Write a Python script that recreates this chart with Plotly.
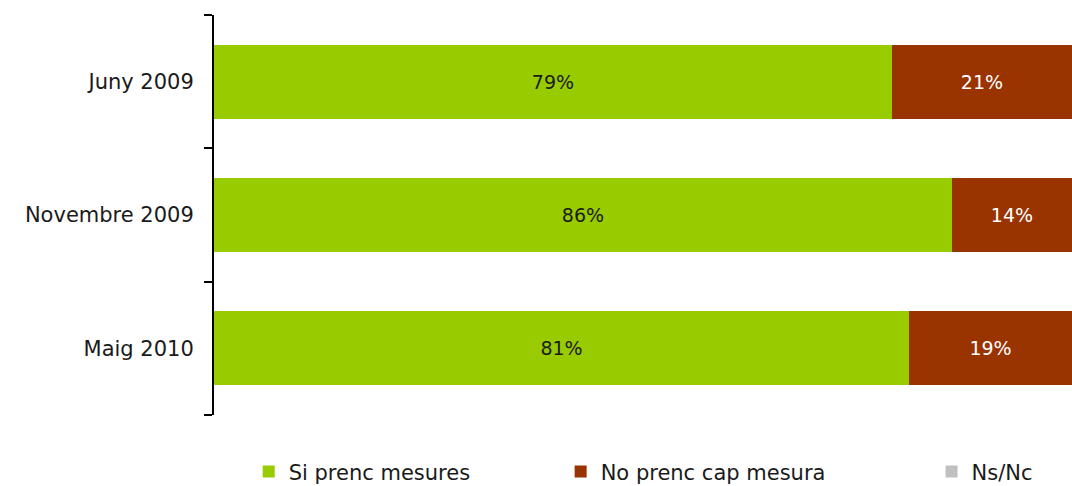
import plotly.graph_objects as go

categories = ["Juny 2009", "Novembre 2009", "Maig 2010"]
si_prenc = [79, 86, 81]
no_prenc = [21, 14, 19]
ns_nc = [0, 0, 0]
series_names = ["Si prenc mesures", "No prenc cap mesura", "Ns/Nc"]
colors = ["#99CC00", "#993300", "#C0C0C0"]
text_colors = ["#1a1a1a", "#ffffff", "#1a1a1a"]
legend_ids = ["legend", "legend2", "legend3"]
legend_x = [0.232, 0.523, 0.869]

FONT = "DejaVu Sans"

y_pos = list(range(len(categories)))
boundaries = [p - 0.5 for p in y_pos] + [y_pos[-1] + 0.5]

fig = go.Figure()
for name, vals, col, tcol, lid in zip(series_names, [si_prenc, no_prenc, ns_nc], colors, text_colors, legend_ids):
    fig.add_trace(go.Bar(
        y=y_pos, x=vals, name=name, orientation="h",
        marker=dict(color=col, line=dict(width=0)),
        text=[f"{v}%" if v > 0 else "" for v in vals],
        textposition="inside", insidetextanchor="middle",
        textfont=dict(family=FONT, size=19, color=tcol),
        hoverinfo="skip", legend=lid,
    ))

legend_common = dict(
    orientation="h", xref="container", yref="container",
    xanchor="left", y=0.029, yanchor="middle",
    font=dict(family=FONT, size=21, color="#1a1a1a"),
    itemwidth=30, bgcolor="rgba(0,0,0,0)",
)

fig.update_layout(
    barmode="stack",
    width=1072, height=486,
    margin=dict(l=214, r=0, t=15, b=71, autoexpand=False),
    paper_bgcolor="white", plot_bgcolor="white",
    bargap=0.445,
    font=dict(family=FONT, size=21, color="#1a1a1a"),
    xaxis=dict(range=[0, 100], visible=False, fixedrange=True),
    yaxis=dict(
        type="linear", range=[boundaries[-1], boundaries[0]], automargin=False,
        showline=True, linecolor="black", linewidth=2,
        tickmode="array", tickvals=y_pos, ticktext=categories,
        ticks="", ticklen=0,
        minor=dict(tickmode="array", tickvals=boundaries, ticks="outside",
                   ticklen=8, tickwidth=2, tickcolor="black", showgrid=False),
        tickfont=dict(family=FONT, size=21, color="#1a1a1a"),
        ticklabelstandoff=14,
        showgrid=False, zeroline=False, fixedrange=True,
    ),
    legend=dict(legend_common, x=legend_x[0]),
    legend2=dict(legend_common, x=legend_x[1]),
    legend3=dict(legend_common, x=legend_x[2]),
    showlegend=True,
)

fig.write_html(
    "out.html",
    config={"displayModeBar": False},
    post_script="document.body.style.margin='0';document.body.style.overflow='hidden';",
)
